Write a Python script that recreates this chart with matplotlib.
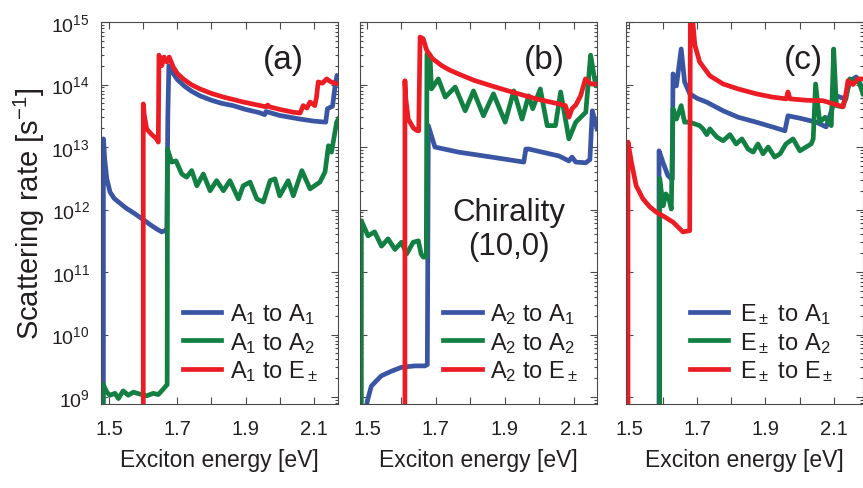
import matplotlib
matplotlib.use('Agg')
import matplotlib.pyplot as plt
import numpy as np
from matplotlib.ticker import LogLocator, NullFormatter

plt.rcParams['font.family'] = 'Liberation Sans'
plt.rcParams['mathtext.fontset'] = 'custom'
plt.rcParams['mathtext.rm'] = 'Liberation Sans'
plt.rcParams['mathtext.it'] = 'Liberation Sans:italic'
plt.rcParams['mathtext.bf'] = 'Liberation Sans:bold'

# data (energy in eV, rate in 1/s)
# panel (a): A1 initial state
a_blue_x = [1.483, 1.483, 1.487, 1.493, 1.5025, 1.515, 1.532, 1.55, 1.571, 1.60, 1.62, 1.639, 1.654, 1.664, 1.669,
            1.672, 1.675, 1.685, 1.70, 1.72, 1.74, 1.766, 1.80, 1.83, 1.863, 1.90, 1.94, 1.956, 1.960, 2.0, 2.06,
            2.10, 2.135, 2.140, 2.155, 2.163, 2.168, 2.172]
a_blue_y = [1e8, 1.35e13, 6.3e12, 3.1e12, 1.9e12, 1.5e12, 1.26e12, 1.05e12, 8.9e11, 6.9e11, 5.75e11, 4.9e11, 4.4e11,
            4.6e11, 5.0e11, 3.2e13, 2.0e14, 1.58e14, 1.2e14, 9.5e13, 7.9e13, 6.6e13, 5.6e13, 5.0e13, 4.6e13, 4.0e13,
            3.55e13, 3.3e13, 3.7e13, 3.2e13, 2.8e13, 2.6e13, 2.5e13, 4.1e13, 4.5e13, 1.0e14, 1.4e14, 1.26e14]
a_green_x = [1.480, 1.482, 1.493, 1.5023, 1.517, 1.527, 1.541, 1.556, 1.571, 1.59, 1.61, 1.629, 1.644, 1.659, 1.666,
             1.670, 1.671, 1.683, 1.696, 1.713, 1.727, 1.742, 1.757, 1.776, 1.796, 1.815, 1.835, 1.854, 1.879,
             1.893, 1.913, 1.933, 1.952, 1.972, 1.986, 2.0, 2.025, 2.04, 2.065, 2.089, 2.118, 2.133, 2.143, 2.152,
             2.167, 2.172]
a_green_y = [1e8, 1.62e9, 1.2e9, 1.07e9, 1.15e9, 9.5e8, 1.26e9, 1.07e9, 1.2e9, 1.12e9, 1.05e9, 1.15e9, 1.1e9,
             1.35e9, 1.5e9, 1.58e9, 9.3e12, 5.75e12, 6.0e12, 3.7e12, 3.3e12, 4.2e12, 2.4e12, 3.7e12, 2.0e12, 2.9e12,
             2.0e12, 2.9e12, 1.48e12, 2.4e12, 2.75e12, 1.48e12, 1.32e12, 2.9e12, 3.1e12, 1.66e12, 2.9e12, 1.66e12,
             4.2e12, 2.14e12, 2.75e12, 4.0e12, 1.05e13, 8.3e12, 2.5e13, 2.8e13]
a_red_x = [1.600, 1.600, 1.603, 1.610, 1.625, 1.639, 1.644, 1.646, 1.654, 1.661, 1.669, 1.676, 1.688, 1.70, 1.717,
           1.74, 1.766, 1.80, 1.835, 1.893, 1.96, 1.965, 1.97, 2.0, 2.04, 2.06, 2.069, 2.08, 2.089, 2.103, 2.108,
           2.113, 2.125, 2.138, 2.15, 2.172]
a_red_y = [1e8, 4.9e13, 3.2e13, 1.95e13, 1.58e13, 1.35e13, 1.2e13, 2.95e14, 2.0e14, 2.75e14, 2.3e14, 2.75e14,
           1.9e14, 1.5e14, 1.23e14, 1.0e14, 8.5e13, 7.2e13, 6.3e13, 5.25e13, 4.4e13, 4.7e13, 4.4e13, 4.0e13, 3.6e13,
           3.5e13, 4.6e13, 4.2e13, 5.25e13, 4.6e13, 6.3e13, 1.1e14, 1.05e14, 1.23e14, 1.1e14, 1.02e14]

# panel (b): A2 initial state
b_blue_x = [1.498, 1.500, 1.5125, 1.527, 1.542, 1.571, 1.600, 1.639, 1.668, 1.675, 1.678, 1.697, 1.765, 1.862,
            1.955, 1.961, 1.969, 2.057, 2.086, 2.095, 2.106, 2.135, 2.147, 2.154, 2.168]
b_blue_y = [1e8, 8.3e8, 1.5e9, 1.82e9, 2.2e9, 2.6e9, 3.0e9, 3.16e9, 3.16e9, 3.3e9, 2.2e13, 1.0e13, 8.3e12, 6.9e12,
            5.75e12, 9.3e12, 9.3e12, 7.2e12, 6.0e12, 6.9e12, 5.75e12, 5.6e12, 6.3e12, 3.8e13, 1.95e13]
b_green_x = [1.4834, 1.4836, 1.503, 1.522, 1.542, 1.561, 1.581, 1.600, 1.615, 1.634, 1.649, 1.657, 1.663, 1.672,
             1.674, 1.683, 1.687, 1.707, 1.727, 1.756, 1.785, 1.809, 1.838, 1.867, 1.901, 1.926, 1.950, 1.969,
             1.981, 2.003, 2.023, 2.047, 2.062, 2.086, 2.106, 2.135, 2.149, 2.164, 2.169]
b_green_y = [1e8, 6.6e11, 3.8e11, 4.4e11, 2.6e11, 3.4e11, 2.3e11, 3.0e11, 1.95e11, 3.0e11, 3.16e11, 1.95e11,
             1.74e11, 1.74e11, 3.1e14, 2.8e14, 8.5e13, 1.23e14, 6.3e13, 9.1e13, 3.8e13, 7.9e13, 3.16e13, 7.1e13,
             2.5e13, 7.9e13, 2.8e13, 6.6e13, 4.1e13, 8.5e13, 2.2e13, 2.2e13, 7.6e13, 1.35e13, 2.5e13, 3.6e13,
             2.95e14, 9.5e13, 1.23e14]
b_red_x = [1.610, 1.610, 1.612, 1.6195, 1.635, 1.646, 1.650, 1.654, 1.663, 1.673, 1.69, 1.717, 1.74, 1.765, 1.81,
           1.862, 1.91, 1.960, 2.0, 2.057, 2.076, 2.086, 2.095, 2.106, 2.12, 2.134, 2.15, 2.168]
b_red_y = [1e8, 1.15e14, 6.3e13, 2.8e13, 2.0e13, 1.82e13, 1.82e13, 5.75e14, 5.4e14, 3.55e14, 2.6e14, 2.0e14,
           1.7e14, 1.48e14, 1.17e14, 9.5e13, 7.9e13, 6.6e13, 5.75e13, 4.9e13, 4.6e13, 3.0e13, 4.1e13, 4.7e13,
           6.6e13, 1.23e14, 1.02e14, 1.02e14]

# panel (c): E+- initial state
c_blue_x = [1.588, 1.588, 1.600, 1.614, 1.624, 1.627, 1.629, 1.639, 1.653, 1.663, 1.678, 1.70, 1.727, 1.776, 1.82,
            1.873, 1.92, 1.957, 1.966, 2.0, 2.049, 2.078, 2.108, 2.133, 2.148, 2.166, 2.186]
c_blue_y = [1e8, 8.7e12, 5.6e12, 3.5e12, 3.1e12, 3.1e12, 1.48e14, 9.5e13, 3.7e14, 1.1e14, 7.1e13, 6.0e13, 5.25e13,
            3.8e13, 3.0e13, 2.5e13, 2.1e13, 1.82e13, 3.16e13, 2.9e13, 2.5e13, 2.1e13, 6.6e13, 5.9e13, 1.15e14,
            1.32e14, 8.5e13]
c_green_x = [1.590, 1.590, 1.600, 1.608, 1.617, 1.624, 1.629, 1.639, 1.653, 1.663, 1.678, 1.707, 1.717, 1.728,
             1.737, 1.757, 1.776, 1.796, 1.814, 1.831, 1.849, 1.864, 1.878, 1.893, 1.908, 1.927, 1.943, 1.960,
             1.981, 2.001, 2.019, 2.034, 2.040, 2.047, 2.059, 2.075, 2.093, 2.100, 2.108, 2.124, 2.136, 2.147,
             2.162, 2.171, 2.186]
c_green_y = [1e8, 3.16e12, 1.15e12, 1.78e12, 1.48e12, 1.02e12, 4.1e13, 2.8e13, 4.6e13, 2.5e13, 2.5e13, 2.2e13,
             1.95e13, 1.58e13, 1.95e13, 1.45e13, 1.26e13, 1.58e13, 1.12e13, 1.35e13, 9.3e12, 8.3e12, 1.12e13,
             7.8e12, 1.0e13, 6.9e12, 7.8e12, 1.12e13, 1.35e13, 8.7e12, 1.0e13, 1.12e13, 1.35e13, 1.02e14, 2.5e13,
             3.0e13, 2.2e13, 3.7e14, 4.6e13, 4.4e13, 5.9e13, 1.23e14, 1.1e14, 1.23e14, 7.1e13]
c_red_x = [1.497, 1.497, 1.507, 1.521, 1.541, 1.56, 1.580, 1.605, 1.629, 1.658, 1.678, 1.680, 1.684, 1.693, 1.707,
           1.737, 1.776, 1.82, 1.873, 1.92, 1.961, 1.966, 1.972, 2.02, 2.069, 2.128, 2.136, 2.142, 2.157, 2.171,
           2.186]
c_red_y = [1e8, 1.2e13, 5.75e12, 2.4e12, 1.48e12, 1.12e12, 9.1e11, 7.6e11, 6.3e11, 4.4e11, 4.6e11, 2.0e15, 1.6e15,
           4.3e14, 2.3e14, 1.38e14, 1.02e14, 8.5e13, 7.1e13, 6.3e13, 5.9e13, 7.6e13, 5.9e13, 5.6e13, 5.5e13,
           4.4e13, 7.1e13, 1.15e14, 1.0e14, 1.23e14, 1.23e14]

a_labels = ['A$_1$ to A$_1$', 'A$_1$ to A$_2$', 'A$_1$ to E$_\\pm$']
b_labels = ['A$_2$ to A$_1$', 'A$_2$ to A$_2$', 'A$_2$ to E$_\\pm$']
c_labels = ['E$_\\pm$ to A$_1$', 'E$_\\pm$ to A$_2$', 'E$_\\pm$ to E$_\\pm$']
xticks = [1.5, 1.6, 1.7, 1.8, 1.9, 2.0, 2.1]
xticklabels = ['1.5', '', '1.7', '', '1.9', '', '2.1']
yticks = [1e9, 1e10, 1e11, 1e12, 1e13, 1e14, 1e15]

colors = ['#3a55a4', '#128042', '#ec1c24']
txt = '#231f20'
spine_c = '#4a4a4a'

fig = plt.figure(figsize=(8.63, 4.89), dpi=100)

panels = [
    dict(left=101, xlim=(1.476, 2.171), data=[(a_blue_x, a_blue_y), (a_green_x, a_green_y), (a_red_x, a_red_y)],
         labels=a_labels, tag='(a)', tagx=0.768, legx=0.346, tpad=0.35),
    dict(left=360, xlim=(1.4796, 2.1676), data=[(b_blue_x, b_blue_y), (b_green_x, b_green_y), (b_red_x, b_red_y)],
         labels=b_labels, tag='(b)', tagx=0.78, legx=0.352, tpad=0.35),
    dict(left=626, xlim=(1.4912, 2.186), data=[(c_blue_x, c_blue_y), (c_green_x, c_green_y), (c_red_x, c_red_y)],
         labels=c_labels, tag='(c)', tagx=0.75, legx=0.269, tpad=0.5),
]

axes = []
for i, p in enumerate(panels):
    ax = fig.add_axes([p['left'] / 863, 84 / 489, 237 / 863, 382 / 489])
    axes.append(ax)
    lines = []
    for (xs, ys), col, lab in zip(p['data'], colors, p['labels']):
        ln, = ax.plot(xs, ys, color=col, lw=3.4, label=lab, solid_joinstyle='round')
        lines.append(ln)
    ax.set_yscale('log')
    ax.set_ylim(10 ** 8.89, 1e15)
    ax.set_xlim(*p['xlim'])
    ax.set_yticks(yticks)
    ax.yaxis.set_minor_locator(LogLocator(base=10, subs=np.arange(2, 10), numticks=20))
    ax.yaxis.set_minor_formatter(NullFormatter())
    ax.set_xticks(xticks)
    ax.set_xticklabels(xticklabels)
    ax.tick_params(which='both', direction='in', top=True, right=True, width=0.8, color=spine_c,
                   labelcolor=txt)
    ax.tick_params(which='major', length=5)
    ax.tick_params(which='minor', length=2.5)
    ax.tick_params(axis='x', labelsize=14.5, pad=11)
    ax.tick_params(axis='y', labelsize=14, pad=8)
    if i > 0:
        ax.tick_params(axis='y', labelleft=False)
    for s in ax.spines.values():
        s.set_color(spine_c)
        s.set_linewidth(0.8)

    ax.text(0.5, -0.162, 'Exciton energy [eV]', transform=ax.transAxes, ha='center', va='baseline',
            fontsize=16.5, color=txt)
    ax.text(p['tagx'], 0.903, p['tag'], transform=ax.transAxes, ha='center', va='center', fontsize=24,
            color=txt)
    ax.legend(handles=lines, loc='lower left', bbox_to_anchor=(p['legx'], 0.055), frameon=False, fontsize=17,
              handlelength=1.62, handletextpad=p['tpad'], labelspacing=0.15, borderpad=0, borderaxespad=0,
              labelcolor=txt)

axes[1].text(0.627, 0.458, 'Chirality\n(10,0)', transform=axes[1].transAxes, ha='center', va='center',
             fontsize=22.5, color=txt, linespacing=1.2)

fig.text(29 / 863, 1 - 214 / 489, 'Scattering rate [s$^{-1}$]', rotation=90, ha='center', va='center',
         fontsize=21, color=txt)

fig.savefig('out.png', dpi=100)
